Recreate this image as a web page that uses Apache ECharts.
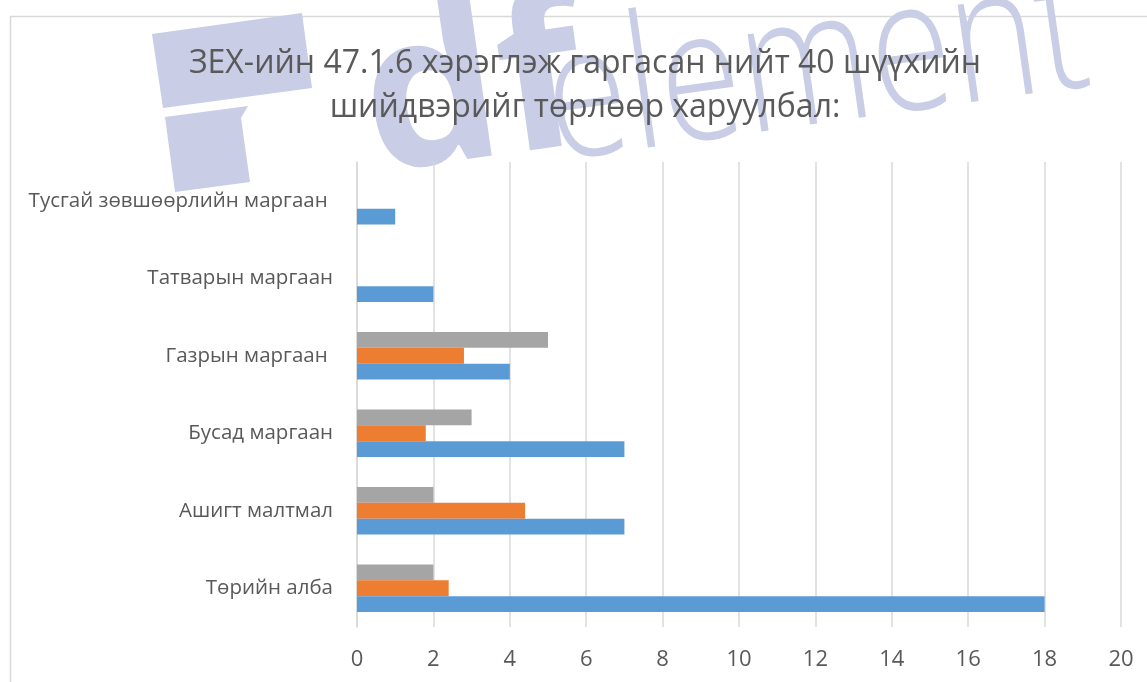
<!DOCTYPE html>
<html>
<head>
<meta charset="utf-8">
<script src="https://cdn.jsdelivr.net/npm/echarts@6/dist/echarts.min.js"></script>
<style>html,body{margin:0;padding:0;background:#fff}#c{width:1147px;height:682px}</style>
</head>
<body>
<div id="c"></div>
<script>
const titleLines = ['ЗЕХ-ийн 47.1.6 хэрэглэж гаргасан нийт 40 шүүхийн', 'шийдвэрийг төрлөөр харуулбал:'];
const categories = ['Төрийн алба', 'Ашигт малтмал', 'Бусад маргаан', 'Газрын маргаан ', 'Татварын маргаан', 'Тусгай зөвшөөрлийн маргаан '];
const seriesBlue = [18, 7, 7, 4, 2, 1];
const seriesOrange = [2.4, 4.4, 1.8, 2.8, null, null];
const seriesGray = [2, 2, 3, 5, null, null];
const xTicks = [0, 2, 4, 6, 8, 10, 12, 14, 16, 18, 20];

const chart = echarts.init(document.getElementById('c'), null, {renderer: 'canvas'});
const FONT = '"Open Sans", "Noto Sans", sans-serif';
const WM = '#c9cde6';
const deg = Math.PI / 180;

chart.setOption({
  animation: false,
  backgroundColor: '#fff',
  grid: {left: 357, right: 26, top: 162, bottom: 55, containLabel: false},
  xAxis: {
    type: 'value', min: xTicks[0], max: xTicks[xTicks.length - 1], interval: 2,
    axisLine: {show: false}, axisTick: {show: false},
    axisLabel: {color: '#595959', fontFamily: FONT, fontSize: 22, margin: 22},
    splitLine: {show: true, lineStyle: {color: '#d9d9d9', width: 1.5}}
  },
  yAxis: {
    type: 'category', data: categories,
    axisLine: {show: true, lineStyle: {color: '#d9d9d9', width: 1.5}},
    axisTick: {show: false},
    axisLabel: {color: '#595959', fontFamily: FONT, fontSize: 20.5, margin: 24}
  },
  series: [
    {name: 'C', type: 'bar', data: seriesGray, itemStyle: {color: '#a5a5a5'}, barGap: '0%', barCategoryGap: '39%'},
    {name: 'B', type: 'bar', data: seriesOrange, itemStyle: {color: '#ed7d31'}, barGap: '0%', barCategoryGap: '39%'},
    {name: 'A', type: 'bar', data: seriesBlue, itemStyle: {color: '#5b9bd5'}, barGap: '0%', barCategoryGap: '39%'}
  ],
  graphic: [
    {type: 'rect', z: -10, silent: true, shape: {x: 10.5, y: 16.5, width: 1300, height: 900}, style: {fill: null, stroke: '#d9d9d9', lineWidth: 1.5}},
    {type: 'group', z: -5, silent: true, children: [
      {type: 'polygon', shape: {points: [[152,34],[302,13],[312,88],[163,108]]}, style: {fill: WM}},
      {type: 'polygon', shape: {points: [[165,117],[248,106],[241,118],[250,182],[175,192]]}, style: {fill: WM}},
      {type: 'text', x: 380, y: 218, rotation: 8 * deg, style: {text: 'df', font: 'bold 215px "Open Sans", sans-serif', fill: WM, textVerticalAlign: 'bottom'}},
      {type: 'text', x: 560, y: 200, rotation: 8 * deg, scaleX: 0.8, style: {text: 'element', font: '300 185px "Open Sans", sans-serif', fill: WM, textVerticalAlign: 'bottom'}}
    ]},
    {type: 'text', z: 10, x: 585, y: 48, style: {text: titleLines[0], font: '32px "Open Sans", sans-serif', fill: '#595959', textAlign: 'center', textVerticalAlign: 'top'}},
    {type: 'text', z: 10, x: 585, y: 92, style: {text: titleLines[1], font: '32px "Open Sans", sans-serif', fill: '#595959', textAlign: 'center', textVerticalAlign: 'top'}}
  ]
});
</script>
</body>
</html>
